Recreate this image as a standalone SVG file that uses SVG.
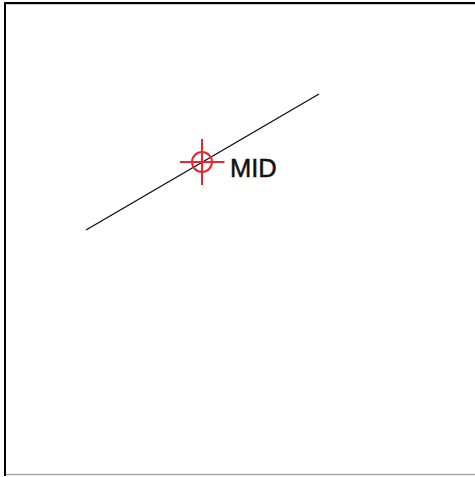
<svg xmlns="http://www.w3.org/2000/svg" width="475" height="477" viewBox="0 0 475 477">
<style>
.mark{fill:none;stroke:#e8262b;stroke-width:2}
.lbl{font-family:"Liberation Sans",Arial,sans-serif;font-size:25.5px;fill:#111;stroke:#111;stroke-width:0.5}
</style>
<rect x="0" y="0" width="475" height="477" fill="#fff"/>
<line x1="5" y1="474.5" x2="475" y2="474.5" stroke="#aaa" stroke-width="1.5"/>
<line x1="5" y1="4" x2="475" y2="4" stroke="#999" stroke-width="1"/>
<path d="M5,476 V3 H476" fill="none" stroke="#000" stroke-width="2"/>
<g id="connectors">
<line x1="86" y1="230" x2="319" y2="94" stroke="#111" stroke-width="1.4"/>
</g>
<g id="mid">
<circle class="mark" cx="202" cy="162" r="10"/>
<line class="mark" x1="180" y1="162" x2="224.5" y2="162"/>
<line class="mark" x1="202" y1="139" x2="202" y2="185"/>
<text class="lbl" x="230" y="177">MID</text>
</g>
</svg>
